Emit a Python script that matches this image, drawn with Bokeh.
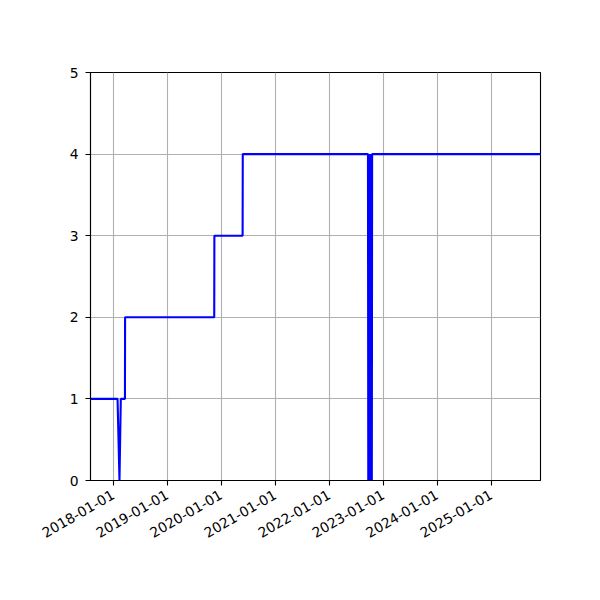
import pandas as pd
from bokeh.models import ColumnDataSource, FixedTicker, DatetimeTickFormatter, Range1d
from bokeh.plotting import figure
from bokeh.embed import file_html
from bokeh.resources import INLINE
from math import pi

# vertices of the line (daily samples collapsed to the points where it turns)
dates = ['2017-07-01', '2018-01-31', '2018-02-13', '2018-02-22', '2018-03-22', '2018-03-23',
         '2019-11-16', '2019-11-17', '2020-05-26', '2020-05-27',
         '2022-09-21', '2022-09-23', '2022-09-25', '2022-09-27', '2022-09-29', '2022-10-01',
         '2022-10-03', '2022-10-05', '2022-10-07', '2022-10-09', '2022-10-11', '2022-10-13',
         '2022-10-15', '2022-10-17', '2022-10-19', '2022-10-21',
         '2025-12-31']
values = [1, 1, 0, 1, 1, 2,
          2, 3, 3, 4,
          4, 0, 4, 0, 4, 0,
          4, 0, 4, 0, 4, 0,
          4, 0, 4, 4,
          4]

x_start = '2017-08-01'
x_end = '2025-12-01'
year_ticks = ['2018-01-01', '2019-01-01', '2020-01-01', '2021-01-01',
              '2022-01-01', '2023-01-01', '2024-01-01', '2025-01-01']
y_ticks = [0, 1, 2, 3, 4, 5]

source = ColumnDataSource(data=dict(date=pd.to_datetime(dates), value=values))

p = figure(width=600, height=600, x_axis_type="datetime",
           x_range=Range1d(pd.Timestamp(x_start), pd.Timestamp(x_end)),
           y_range=Range1d(0, 5),
           toolbar_location=None, output_backend="svg",
           min_border_left=90, min_border_right=60, min_border_top=72, min_border_bottom=120)

p.line('date', 'value', source=source, line_color="#0000ff", line_width=2.1)

# ticks
tick_ms = [int(t.value // 10**6) for t in pd.to_datetime(year_ticks)]
p.xaxis.ticker = FixedTicker(ticks=tick_ms)
fmt = "%Y-%m-%d"
p.xaxis.formatter = DatetimeTickFormatter(years=fmt, months=fmt, days=fmt, hours=fmt,
                                          minutes=fmt, seconds=fmt, milliseconds=fmt,
                                          microseconds=fmt, minsec=fmt, hourmin=fmt)
p.xaxis.major_label_orientation = pi / 6
p.yaxis.ticker = FixedTicker(ticks=y_ticks)

for ax in (p.xaxis, p.yaxis):
    ax.major_label_text_font = "DejaVu Sans"
    ax.major_label_text_font_size = "13.9px"
    ax.major_label_text_color = "black"
    ax.axis_line_color = "black"
    ax.axis_line_width = 1.1
    ax.major_tick_line_color = "black"
    ax.major_tick_line_width = 1.1
    ax.major_tick_in = 0
    ax.major_tick_out = 5
    ax.minor_tick_line_color = None

p.xaxis.major_label_standoff = 8
p.yaxis.major_label_standoff = 7

# grid and frame
p.grid.grid_line_color = "#b0b0b0"
p.grid.grid_line_width = 1.1
p.outline_line_color = "black"
p.outline_line_width = 1.1
p.outline_line_alpha = 1
p.background_fill_color = "white"
p.border_fill_color = "white"

open("out.html", "w").write(file_html(p, INLINE))
